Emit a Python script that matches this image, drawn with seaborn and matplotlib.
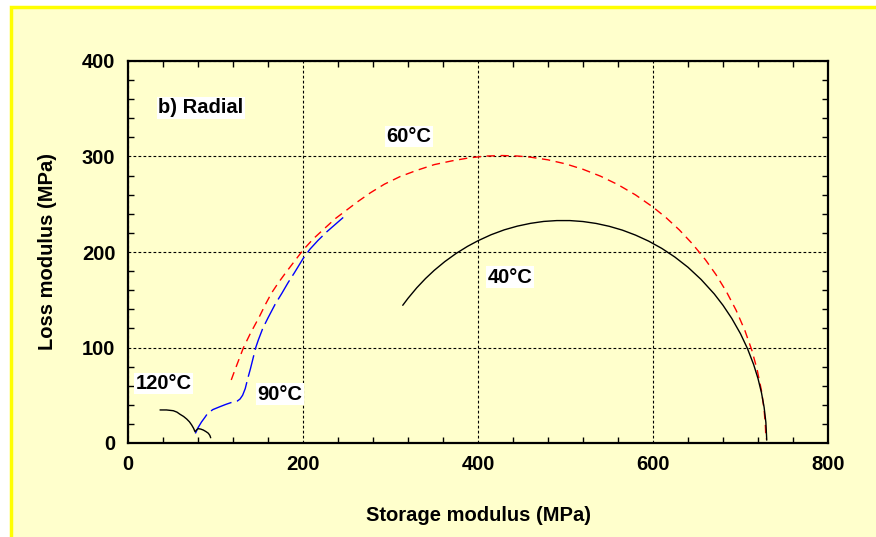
import pandas as pd
import matplotlib.pyplot as plt
import seaborn as sns
from matplotlib.patches import Rectangle
from matplotlib.ticker import MultipleLocator

# Curves (storage modulus, loss modulus in MPa)
t40_x = [314, 320, 330, 340, 350, 362, 375, 388, 400, 415, 430, 445, 460, 475,
         490, 505, 520, 535, 550, 565, 580, 595, 610, 625, 640, 655, 670, 680,
         690, 700, 708, 715, 720, 724, 727, 729, 730]
t40_y = [144.2, 151.5, 162.5, 172.2, 180.8, 189.9, 198.5, 205.9, 211.8, 218.1,
         223.2, 227.1, 230.0, 232.0, 232.9, 232.9, 231.9, 229.9, 226.9, 222.9,
         217.7, 211.4, 203.8, 194.7, 184.0, 171.2, 156.1, 144.2, 130.5, 114.4,
         98.8, 82.2, 67.5, 52.5, 37.3, 21.6, 3]

t60_x = [118, 122, 127, 132, 140, 150, 157, 164, 172, 180, 190, 200, 212, 225,
         237, 250, 263, 277, 293, 311, 330, 350, 370, 390, 410, 428, 445, 460,
         480, 500, 520, 540, 560, 580, 600, 615, 630, 645, 660, 672, 684, 695,
         705, 713, 719, 724, 727, 728.5, 729]
t60_y = [66, 76, 88, 100, 115, 132, 145, 157, 168, 178, 190, 202, 214, 225,
         235, 244, 253, 262, 271, 279, 285.5, 291.5, 295.4, 298.6, 300.5, 301,
         300.5, 299.3, 296.5, 292.3, 286.6, 279.4, 270.5, 259.8, 247, 235.9,
         223.2, 208.6, 191.8, 176.3, 158.3, 139.0, 117.8, 97, 76.9, 54.6, 34.6,
         17.3, 4]

t90_x = [77, 80, 84, 88, 91, 97, 105, 112, 120, 125, 128, 131, 134, 137, 140,
         143, 146, 149, 154, 160, 168, 176, 183, 190, 200, 208, 217, 227, 237, 247]
t90_y = [10, 16, 22, 27, 31, 35, 38, 40.5, 43, 44, 46, 50, 57, 68, 78, 89, 100,
         108, 120, 131, 145, 157, 168, 178, 193, 203, 212, 221, 229, 237]

t120_x = [36.6, 44, 51.8, 56, 59.4, 63.5, 67.1, 70.2, 72.8, 75, 76.6, 78.5,
          80.3, 83, 86, 89, 91.8, 93.5, 94.5]
t120_y = [34.6, 34.6, 33.8, 32.3, 30.1, 27.8, 25.1, 22.2, 18.8, 15.3, 11.8,
          13.8, 15.0, 14.6, 13.6, 12.0, 10.2, 8.0, 5.5]

labels = ["40°C", "60°C", "90°C", "120°C"]
label_x = [436.6, 321, 173.7, 40.6]
label_y = [173.8, 321, 51.3, 62.3]

BG = "#FFFFCC"

sns.set_style("ticks")
plt.rcParams["font.family"] = ["Liberation Sans", "DejaVu Sans"]
plt.rcParams["font.weight"] = "bold"
plt.rcParams["text.color"] = "black"
plt.rcParams["axes.labelcolor"] = "black"
plt.rcParams["xtick.color"] = "black"
plt.rcParams["ytick.color"] = "black"

fig = plt.figure(figsize=(8.76, 5.37), dpi=100)
fig.patch.set_facecolor("white")
frame = Rectangle((10.5 / 876, -0.05), 1.1, 1 - 6.5 / 537 + 0.05,
                  transform=fig.transFigure, facecolor=BG,
                  edgecolor="#FFFF00", linewidth=2.5, zorder=-10)
fig.add_artist(frame)

ax = fig.add_axes([128 / 876, 94 / 537, 700 / 876, 382 / 537])
ax.set_facecolor(BG)

df40 = pd.DataFrame({"x": t40_x, "y": t40_y})
df60 = pd.DataFrame({"x": t60_x, "y": t60_y})
df90 = pd.DataFrame({"x": t90_x, "y": t90_y})
df120 = pd.DataFrame({"x": t120_x, "y": t120_y})

sns.lineplot(data=df60, x="x", y="y", sort=False, estimator=None, ax=ax,
             color="red", linewidth=1.0, zorder=3)
ax.lines[-1].set_dashes((6, 4))
sns.lineplot(data=df90, x="x", y="y", sort=False, estimator=None, ax=ax,
             color="blue", linewidth=1.0, zorder=3)
ax.lines[-1].set_dashes((16, 4))
sns.lineplot(data=df40, x="x", y="y", sort=False, estimator=None, ax=ax,
             color="black", linewidth=1.0, zorder=4)
sns.lineplot(data=df120, x="x", y="y", sort=False, estimator=None, ax=ax,
             color="black", linewidth=1.0, zorder=4)

ax.set_xlim(0, 800)
ax.set_ylim(0, 400)
ax.xaxis.set_major_locator(MultipleLocator(200))
ax.xaxis.set_minor_locator(MultipleLocator(40))
ax.yaxis.set_major_locator(MultipleLocator(100))
ax.yaxis.set_minor_locator(MultipleLocator(20))
ax.grid(True, which="major", color="black", linestyle=(0, (2.5, 2)), linewidth=0.8)
ax.tick_params(which="both", direction="in", top=True, right=True,
               width=1.0, labelsize=14.5)
ax.tick_params(which="major", length=0, pad=9)
ax.tick_params(which="minor", length=4)
for lab in ax.get_xticklabels() + ax.get_yticklabels():
    lab.set_fontweight("bold")
for sp in ax.spines.values():
    sp.set_linewidth(1.6)
    sp.set_color("black")

ax.set_xlabel("Storage modulus (MPa)", fontsize=14.5, fontweight="bold", labelpad=23)
ax.set_ylabel("Loss modulus (MPa)", fontsize=14.5, fontweight="bold", labelpad=18)

box = dict(facecolor="white", edgecolor="none", pad=1)
ax.text(34.3, 350.8, "b) Radial", fontsize=14.5, fontweight="bold",
        ha="left", va="center", bbox=box, zorder=5)
for t, lx, ly in zip(labels, label_x, label_y):
    ax.text(lx, ly, t, fontsize=14.5, fontweight="bold", ha="center",
            va="center", bbox=box, zorder=5)

fig.savefig("out.png", dpi=100, facecolor=fig.get_facecolor())
